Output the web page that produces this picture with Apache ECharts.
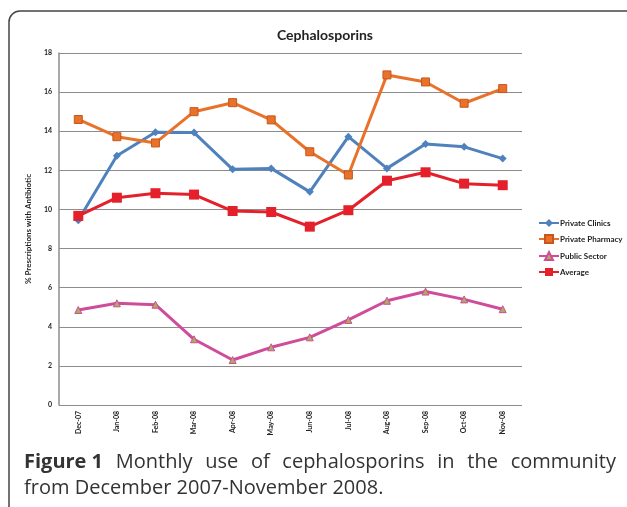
<!DOCTYPE html>
<html>
<head>
<meta charset="utf-8">
<script src="https://cdn.jsdelivr.net/npm/echarts@6/dist/echarts.min.js"></script>
<style>
html,body{margin:0;padding:0;background:#fff;}
#c{width:627px;height:507px;}
</style>
</head>
<body>
<div id="c"></div>
<script>
var categories = ['Dec-07','Jan-08','Feb-08','Mar-08','Apr-08','May-08','Jun-08','Jul-08','Aug-08','Sep-08','Oct-08','Nov-08'];
var privateClinics = [9.45, 12.75, 13.95, 13.93, 12.05, 12.1, 10.9, 13.72, 12.1, 13.35, 13.2, 12.6];
var privatePharmacy = [14.6, 13.72, 13.4, 15.0, 15.46, 14.58, 12.95, 11.76, 16.88, 16.52, 15.43, 16.18];
var publicSector = [4.86, 5.2, 5.13, 3.36, 2.3, 2.95, 3.46, 4.35, 5.33, 5.8, 5.4, 4.9];
var average = [9.67, 10.6, 10.83, 10.76, 9.92, 9.87, 9.12, 9.96, 11.47, 11.9, 11.32, 11.24];
var yTicks = [0, 2, 4, 6, 8, 10, 12, 14, 16, 18];
var captionBold = 'Figure 1';
var captionLine1 = ['Monthly', 'use', 'of', 'cephalosporins', 'in', 'the', 'community'];
var captionLine2 = 'from December 2007-November 2008.';

var capFont = '"Open Sans", sans-serif';
var capSize = 20;
var cnv = document.createElement('canvas').getContext('2d');
function measure(t, bold) {
  cnv.font = (bold ? 'bold ' : '') + capSize + 'px ' + capFont;
  return cnv.measureText(t).width;
}
// justified first line
var words = [{t: captionBold, b: true}].concat(captionLine1.map(function (w) { return {t: w, b: false}; }));
var x0 = 24, x1 = 616;
var total = 0;
words.forEach(function (w) { w.w = measure(w.t, w.b); total += w.w; });
var gap = (x1 - x0 - total) / (words.length - 1);
var capGraphics = [];
var cx = x0;
words.forEach(function (w) {
  capGraphics.push({type: 'text', x: cx, y: 452, style: {text: w.t, fontFamily: capFont, fontSize: capSize, fontWeight: w.b ? 'bold' : 'normal', fill: '#333'}});
  cx += w.w + gap;
});
capGraphics.push({type: 'text', x: x0, y: 478, style: {text: captionLine2, fontFamily: capFont, fontSize: capSize, fill: '#333'}});

var chart = echarts.init(document.getElementById('c'), null, {renderer: 'canvas'});
var lblFont = 'Lato, "Open Sans", sans-serif';
chart.setOption({
  animation: false,
  title: {
    text: 'Cephalosporins',
    left: 320, top: 23, textAlign: 'center',
    textStyle: {fontFamily: lblFont, fontSize: 14, fontWeight: 'bold', color: '#222'}
  },
  legend: {
    orient: 'vertical', left: 533, top: 214, itemGap: 7, itemWidth: 20, itemHeight: 10,
    textStyle: {fontFamily: lblFont, fontSize: 8, fontWeight: 'bold', color: '#222', padding: [0,0,0,-4]},
    data: ['Private Clinics', 'Private Pharmacy', 'Public Sector', 'Average']
  },
  grid: {left: 59, right: 105, top: 53, bottom: 102, containLabel: false},
  xAxis: {
    type: 'category', data: categories, boundaryGap: true,
    axisLine: {show: false}, axisTick: {show: false},
    axisLabel: {rotate: 90, margin: 6, fontFamily: lblFont, fontSize: 7, fontWeight: 'bold', color: '#222'}
  },
  yAxis: {
    type: 'value', min: yTicks[0], max: yTicks[yTicks.length-1], interval: 2,
    name: '% Prescriptions with Antibiotic', nameLocation: 'middle', nameGap: 27, nameRotate: 90,
    nameTextStyle: {fontFamily: lblFont, fontSize: 8, fontWeight: 'bold', color: '#222'},
    axisLine: {show: true, lineStyle: {color: '#8c8c8c', width: 1.5}},
    axisTick: {show: false},
    axisLabel: {margin: 7, fontFamily: lblFont, fontSize: 7, fontWeight: 'bold', color: '#222'},
    splitLine: {lineStyle: {color: '#8c8c8c', width: 1}}
  },
  graphic: [
    {type: 'rect', shape: {x: 9, y: 11, width: 720, height: 620, r: 11}, style: {fill: 'none', stroke: '#444', lineWidth: 1.5}, silent: true}
  ].concat(capGraphics),
  series: [
    {name: 'Private Clinics', type: 'line', data: privateClinics, symbol: 'diamond', symbolSize: 8,
     lineStyle: {color: '#4F81BD', width: 3}, itemStyle: {color: '#4F81BD'}},
    {name: 'Private Pharmacy', type: 'line', data: privatePharmacy, symbol: 'rect', symbolSize: 8,
     lineStyle: {color: '#E8722A', width: 3}, itemStyle: {color: '#E8722A', borderColor: '#C8561A', borderWidth: 1}},
    {name: 'Public Sector', type: 'line', data: publicSector, symbol: 'triangle', symbolSize: 7,
     lineStyle: {color: '#CF4C9B', width: 3}, itemStyle: {color: '#A8AE5A', borderColor: '#CF4C9B', borderWidth: 1}},
    {name: 'Average', type: 'line', data: average, symbol: 'rect', symbolSize: 10,
     lineStyle: {color: '#E4202A', width: 3}, itemStyle: {color: '#E4202A'}}
  ]
});
</script>
</body>
</html>
